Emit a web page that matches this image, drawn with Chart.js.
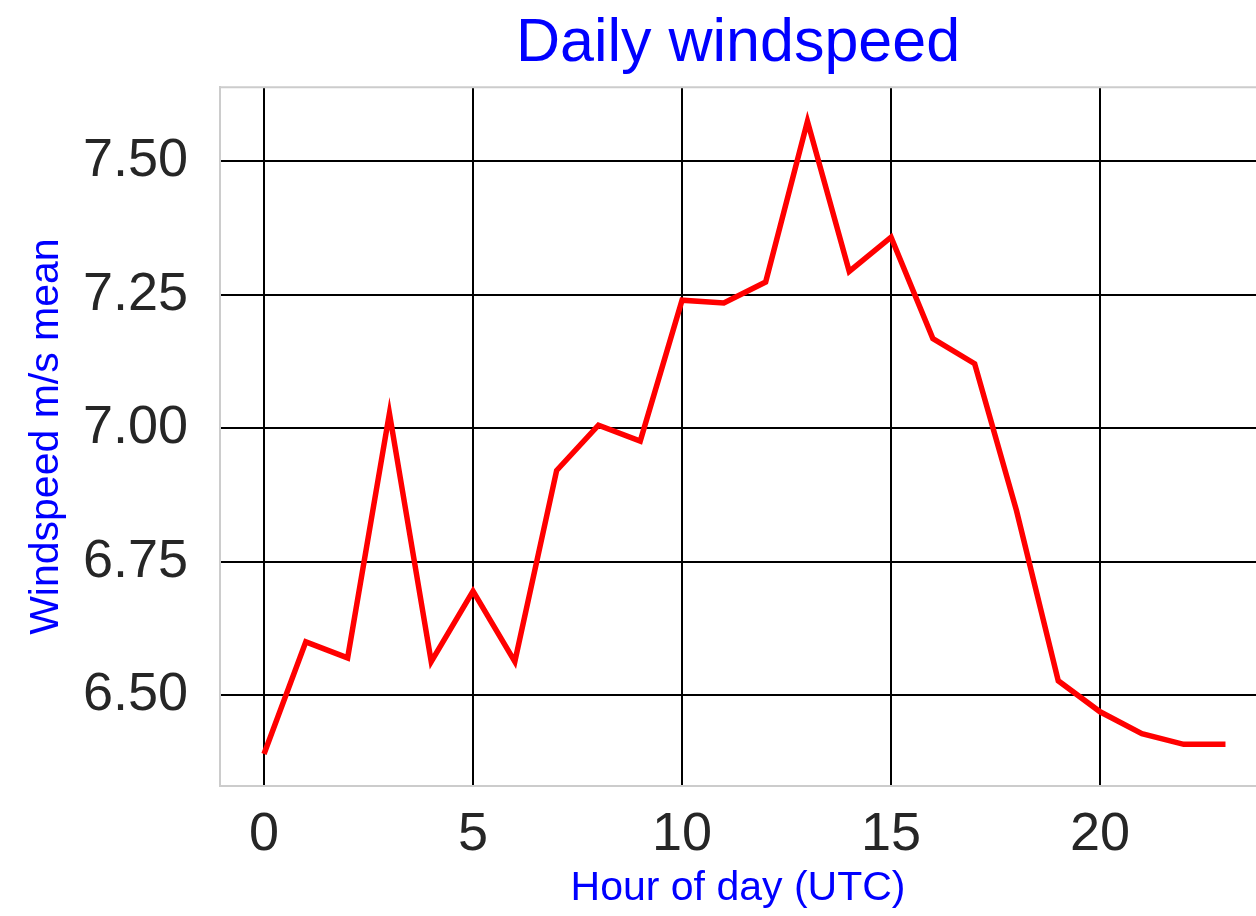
<!DOCTYPE html>
<html>
<head>
<meta charset="utf-8">
<script src="https://cdn.jsdelivr.net/npm/chart.js@4"></script>
<style>
  html, body { margin: 0; padding: 0; background: #fff; }
  #wrap { width: 1256px; height: 916px; }
</style>
</head>
<body>
<div id="wrap"><canvas id="myChart" width="1256" height="916"></canvas></div>
<script>
const hours = [0, 1, 2, 3, 4, 5, 6, 7, 8, 9, 10, 11, 12, 13, 14, 15, 16, 17, 18, 19, 20, 21, 22, 23];
const windMean = [6.390, 6.600, 6.570, 7.028, 6.563, 6.695, 6.563, 6.921, 7.006, 6.976,
  7.240, 7.235, 7.274, 7.575, 7.294, 7.358, 7.168, 7.121, 6.846, 6.527,
  6.469, 6.428, 6.408, 6.408];
const xTicks = [0, 5, 10, 15, 20];
const yTicks = [6.50, 6.75, 7.00, 7.25, 7.50];

const font = 'Liberation Sans, Arial, sans-serif';

const frame = {
  id: 'frame_top',
  afterDraw: (chart) => {
    const ctx = chart.ctx;
    const a = chart.chartArea;
    ctx.save();
    ctx.strokeStyle = '#cccccc';
    ctx.lineWidth = 2;
    ctx.beginPath();
    ctx.moveTo(a.left - 1, a.top);
    ctx.lineTo(a.right, a.top);
    ctx.stroke();
    ctx.restore();
  },
};

const bg = {
  id: 'white_bg',
  beforeDraw: (chart) => {
    const ctx = chart.canvas.getContext('2d');
    ctx.save();
    ctx.globalCompositeOperation = 'destination-over';
    ctx.fillStyle = '#fff';
    ctx.fillRect(0, 0, chart.width, chart.height);
    ctx.restore();
  },
};

new Chart(document.getElementById('myChart').getContext('2d'), {
  type: 'line',
  data: {
    datasets: [
      {
        label: 'Windspeed',
        data: hours.map((h, i) => ({ x: h, y: windMean[i] })),
        borderColor: '#ff0000',
        borderWidth: 5.5,
        pointRadius: 0,
        tension: 0,
        fill: false,
      },
    ],
  },
  plugins: [bg, frame],
  options: {
    responsive: false,
    animation: false,
    layout: { padding: { left: 0, right: 0, top: 0, bottom: 0 } },
    plugins: {
      legend: { display: false },
      tooltip: { enabled: false },
      title: {
        display: true,
        fullSize: false,
        text: 'Daily windspeed',
        color: 'blue',
        font: { family: font, size: 61, weight: 'normal', lineHeight: 1.2 },
        padding: { top: 8, bottom: 6 },
      },
    },
    scales: {
      x: {
        type: 'linear',
        min: -1.053,
        max: 23.73,
        afterBuildTicks: (scale) => {
          scale.ticks = xTicks.map((v) => ({ value: v }));
        },
        afterFit: (scale) => {
          scale.height = 130;
        },
        ticks: {
          color: '#262626',
          padding: 17,
          font: { family: font, size: 54 },
          callback: (v) => String(v),
        },
        grid: { color: '#000', lineWidth: 2, drawTicks: false },
        border: { color: '#cccccc', width: 2 },
        title: {
          display: true,
          text: 'Hour of day (UTC)',
          color: 'blue',
          font: { family: font, size: 41, lineHeight: 1.2 },
          padding: { top: 0, bottom: 3 },
        },
      },
      y: {
        min: 6.330,
        max: 7.639,
        afterBuildTicks: (scale) => {
          scale.ticks = yTicks.map((v) => ({ value: v }));
        },
        afterFit: (scale) => {
          scale.width = 220;
        },
        ticks: {
          color: '#262626',
          padding: 32,
          font: { family: font, size: 54 },
          callback: (v) => Number(v).toFixed(2),
        },
        grid: { color: '#000', lineWidth: 2, drawTicks: false },
        border: { color: '#cccccc', width: 2 },
        title: {
          display: true,
          text: 'Windspeed m/s mean',
          color: 'blue',
          font: { family: font, size: 41, lineHeight: 1.2 },
          padding: { top: 22, bottom: 0 },
        },
      },
    },
  },
});
</script>
</body>
</html>
